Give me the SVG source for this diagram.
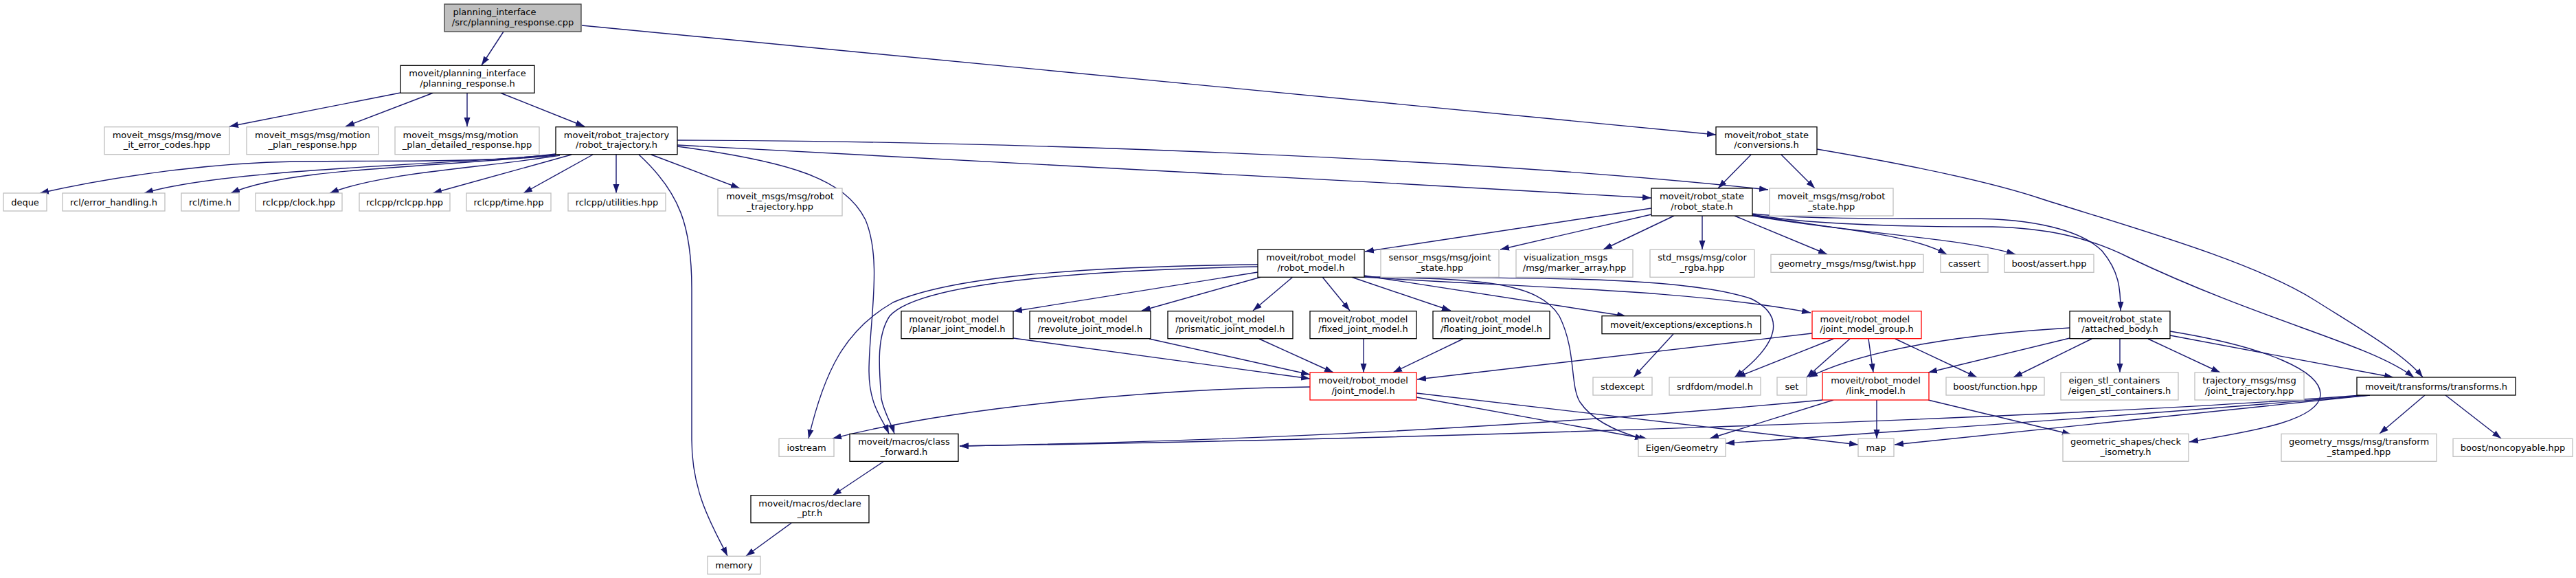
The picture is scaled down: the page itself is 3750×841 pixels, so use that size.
<svg xmlns="http://www.w3.org/2000/svg" width="3750" height="841" viewBox="0 0 3750 841">
<style>
.n rect{fill:#fff;stroke:#000;stroke-width:1.3}
.g rect{stroke:#bfbfbf}
.r rect{stroke:#ff0000}
.root rect{fill:#bfbfbf;stroke:#404040}
text{font-family:"DejaVu Sans",sans-serif;font-size:13px;fill:#000;text-anchor:middle}
text.l{text-anchor:start}
#edges path{fill:none;stroke:#191970;stroke-width:1.4;marker-end:url(#a)}
</style>
<defs>
<marker id="a" markerUnits="userSpaceOnUse" markerWidth="14" markerHeight="10" refX="13" refY="5" orient="auto">
<path d="M0,0.5 L13,5 L0,9.5 z" fill="#191970"/>
</marker>
</defs>
<rect width="3750" height="841" fill="#fff"/>
<g id="edges">
<path d="M733,46 L701,95"/>
<path d="M847,37 L2498,196"/>
<path d="M583,135 L334,184"/>
<path d="M631,135 L503,184"/>
<path d="M680,135 L680,184"/>
<path d="M728,135 L851,184"/>
<path d="M809,224 C700,238 560,233 430,235 C300,237 160,258 58,281"/>
<path d="M809,225 C650,240 330,245 210,281"/>
<path d="M809,226 C600,245 420,245 336,281"/>
<path d="M815,226 C700,245 560,250 480,281"/>
<path d="M832,225 L630,281"/>
<path d="M863,225 L762,281"/>
<path d="M897,225 L897,281"/>
<path d="M948,225 L1077,274"/>
<path d="M930,225 C990,280 1007,330 1007,420 L1007,640 C1007,720 1040,770 1059,809"/>
<path d="M986,213 C1150,235 1230,260 1260,320 C1285,380 1265,470 1265,540 C1265,590 1285,610 1294,631"/>
<path d="M986,211 C1300,230 1900,258 2404,288"/>
<path d="M986,204 C1400,205 2100,225 2574,276"/>
<path d="M2549,225 L2501,274"/>
<path d="M2593,225 L2642,274"/>
<path d="M2645,217 C2780,240 2900,265 2974,290 C3100,330 3280,380 3370,437 C3430,475 3500,515 3527,549"/>
<path d="M2404,303 L1987,366"/>
<path d="M2404,312 L2184,363"/>
<path d="M2437,314 L2334,363"/>
<path d="M2478,314 L2478,363"/>
<path d="M2525,314 L2660,370"/>
<path d="M2551,313 C2680,335 2780,340 2834,370"/>
<path d="M2551,314 C2700,340 2850,345 2934,370"/>
<path d="M2551,311 C2620,318 2700,318 2867,318 C2960,318 3030,335 3060,365 C3085,395 3087,420 3087,452"/>
<path d="M2551,312 C2620,325 2750,330 2901,330 C2980,332 3040,345 3100,375 C3300,470 3450,500 3514,549"/>
<path d="M1831,396 L1475,453"/>
<path d="M1836,403 L1662,452"/>
<path d="M1882,403 L1824,452"/>
<path d="M1925,403 L1965,452"/>
<path d="M1967,403 L2112,452"/>
<path d="M1986,401 L2367,460"/>
<path d="M1986,403 C2200,418 2450,420 2636,455"/>
<path d="M1986,403 C2200,405 2450,400 2550,435 C2600,460 2590,500 2525,549"/>
<path d="M1986,403 C2150,405 2240,410 2270,460 C2295,510 2285,560 2300,585 C2320,615 2360,630 2393,639"/>
<path d="M1831,385 C1550,388 1380,405 1300,440 C1230,480 1200,540 1177,638"/>
<path d="M1831,388 C1500,395 1330,420 1295,460 C1275,490 1280,540 1283,580 C1287,600 1297,615 1302,631"/>
<path d="M1475,492 L1907,551"/>
<path d="M1673,493 L1907,545"/>
<path d="M1833,493 L1941,542"/>
<path d="M1985,493 L1985,542"/>
<path d="M2130,493 L2028,542"/>
<path d="M2638,485 L2063,552"/>
<path d="M2436,486 L2378,549"/>
<path d="M2669,493 L2528,549"/>
<path d="M2693,493 L2630,549"/>
<path d="M2720,493 L2727,542"/>
<path d="M2759,493 L2878,549"/>
<path d="M3013,477 C2880,485 2720,505 2633,549"/>
<path d="M3013,492 L2807,542"/>
<path d="M3045,493 L2931,549"/>
<path d="M3086,493 L3086,542"/>
<path d="M3127,493 L3232,542"/>
<path d="M3159,488 L3484,549"/>
<path d="M3159,482 C3300,505 3380,540 3378,575 C3375,615 3260,630 3187,643"/>
<path d="M1907,563 C1700,565 1400,590 1212,638"/>
<path d="M2062,578 L2399,639"/>
<path d="M2062,572 L2705,647"/>
<path d="M2669,582 L2489,638"/>
<path d="M2732,582 L2732,638"/>
<path d="M2807,582 L3015,632"/>
<path d="M2653,582 C2300,615 1900,640 1397,649"/>
<path d="M3450,574 C3000,610 2000,640 1397,649"/>
<path d="M3450,575 C3100,605 2800,625 2512,645"/>
<path d="M3450,575 C3200,600 2950,625 2758,647"/>
<path d="M3530,575 L3464,631"/>
<path d="M3560,575 L3641,638"/>
<path d="M1287,671 L1212,721"/>
<path d="M1152,761 L1086,809"/>
</g>
<g id="n0" class="n root"><rect x="647" y="6" width="199" height="40"/><text class="l" x="659.5" y="22">planning_interface</text><text x="746.5" y="36.5">/src/planning_response.cpp</text></g>
<g id="n1" class="n"><rect x="583" y="95.3" width="195" height="40"/><text x="680.5" y="111.3">moveit/planning_interface</text><text x="680.5" y="125.8">/planning_response.h</text></g>
<g id="n2" class="n g"><rect x="152" y="184.7" width="182" height="40"/><text x="243" y="200.7">moveit_msgs/msg/move</text><text x="243" y="215.2">_it_error_codes.hpp</text></g>
<g id="n3" class="n g"><rect x="359" y="184.7" width="192" height="40"/><text x="455" y="200.7">moveit_msgs/msg/motion</text><text x="455" y="215.2">_plan_response.hpp</text></g>
<g id="n4" class="n g"><rect x="575" y="184.7" width="210" height="40"/><text class="l" x="586.5" y="200.7">moveit_msgs/msg/motion</text><text x="680" y="215.2">_plan_detailed_response.hpp</text></g>
<g id="n5" class="n"><rect x="809" y="184.7" width="177" height="40"/><text x="897.5" y="200.7">moveit/robot_trajectory</text><text x="897.5" y="215.2">/robot_trajectory.h</text></g>
<g id="n6" class="n"><rect x="2498" y="184.7" width="147" height="40"/><text x="2571.5" y="200.7">moveit/robot_state</text><text x="2571.5" y="215.2">/conversions.h</text></g>
<g id="n7" class="n g"><rect x="5" y="281" width="63" height="26"/><text x="36.5" y="298.5">deque</text></g>
<g id="n8" class="n g"><rect x="91" y="281" width="149" height="26"/><text x="165.5" y="298.5">rcl/error_handling.h</text></g>
<g id="n9" class="n g"><rect x="264" y="281" width="84" height="26"/><text x="306" y="298.5">rcl/time.h</text></g>
<g id="n10" class="n g"><rect x="372" y="281" width="126" height="26"/><text x="435" y="298.5">rclcpp/clock.hpp</text></g>
<g id="n11" class="n g"><rect x="523" y="281" width="132" height="26"/><text x="589" y="298.5">rclcpp/rclcpp.hpp</text></g>
<g id="n12" class="n g"><rect x="679" y="281" width="123" height="26"/><text x="740.5" y="298.5">rclcpp/time.hpp</text></g>
<g id="n13" class="n g"><rect x="827" y="281" width="142" height="26"/><text x="898" y="298.5">rclcpp/utilities.hpp</text></g>
<g id="n14" class="n g"><rect x="1045" y="274" width="181" height="40"/><text x="1135.5" y="290">moveit_msgs/msg/robot</text><text x="1135.5" y="304.5">_trajectory.hpp</text></g>
<g id="n15" class="n"><rect x="2404" y="274" width="147" height="40"/><text x="2477.5" y="290">moveit/robot_state</text><text x="2477.5" y="304.5">/robot_state.h</text></g>
<g id="n16" class="n g"><rect x="2576" y="274" width="180" height="40"/><text x="2666" y="290">moveit_msgs/msg/robot</text><text x="2666" y="304.5">_state.hpp</text></g>
<g id="n17" class="n"><rect x="1831" y="363.3" width="155" height="40"/><text x="1908.5" y="379.3">moveit/robot_model</text><text x="1908.5" y="393.8">/robot_model.h</text></g>
<g id="n18" class="n g"><rect x="2010" y="363.3" width="172" height="40"/><text x="2096" y="379.3">sensor_msgs/msg/joint</text><text x="2096" y="393.8">_state.hpp</text></g>
<g id="n19" class="n g"><rect x="2207" y="363.3" width="170" height="40"/><text class="l" x="2218" y="379.3">visualization_msgs</text><text x="2292" y="393.8">/msg/marker_array.hpp</text></g>
<g id="n20" class="n g"><rect x="2402" y="363.3" width="152" height="40"/><text x="2478" y="379.3">std_msgs/msg/color</text><text x="2478" y="393.8">_rgba.hpp</text></g>
<g id="n21" class="n g"><rect x="2578" y="370.3" width="222" height="26"/><text x="2689" y="387.8">geometry_msgs/msg/twist.hpp</text></g>
<g id="n22" class="n g"><rect x="2825" y="370.3" width="69" height="26"/><text x="2859.5" y="387.8">cassert</text></g>
<g id="n23" class="n g"><rect x="2918" y="370.3" width="130" height="26"/><text x="2983" y="387.8">boost/assert.hpp</text></g>
<g id="n24" class="n"><rect x="1312" y="452.7" width="163" height="40"/><text class="l" x="1323.3" y="468.7">moveit/robot_model</text><text x="1393.5" y="483.2">/planar_joint_model.h</text></g>
<g id="n25" class="n"><rect x="1499" y="452.7" width="176" height="40"/><text class="l" x="1510.3" y="468.7">moveit/robot_model</text><text x="1587" y="483.2">/revolute_joint_model.h</text></g>
<g id="n26" class="n"><rect x="1700" y="452.7" width="182" height="40"/><text class="l" x="1710.6" y="468.7">moveit/robot_model</text><text x="1791" y="483.2">/prismatic_joint_model.h</text></g>
<g id="n27" class="n"><rect x="1907" y="452.7" width="155" height="40"/><text class="l" x="1918.7" y="468.7">moveit/robot_model</text><text x="1984.5" y="483.2">/fixed_joint_model.h</text></g>
<g id="n28" class="n"><rect x="2086" y="452.7" width="170" height="40"/><text class="l" x="2097.4" y="468.7">moveit/robot_model</text><text x="2171" y="483.2">/floating_joint_model.h</text></g>
<g id="n29" class="n"><rect x="2332" y="459.7" width="231" height="26"/><text x="2447.5" y="477.2">moveit/exceptions/exceptions.h</text></g>
<g id="n30" class="n r"><rect x="2638" y="452.7" width="159" height="40"/><text class="l" x="2649.5" y="468.7">moveit/robot_model</text><text x="2717.5" y="483.2">/joint_model_group.h</text></g>
<g id="n31" class="n"><rect x="3013" y="452.7" width="146" height="40"/><text x="3086" y="468.7">moveit/robot_state</text><text x="3086" y="483.2">/attached_body.h</text></g>
<g id="n32" class="n r"><rect x="1907" y="542" width="155" height="40"/><text x="1984.5" y="558">moveit/robot_model</text><text x="1984.5" y="572.5">/joint_model.h</text></g>
<g id="n33" class="n g"><rect x="2319" y="549" width="86" height="26"/><text x="2362" y="566.5">stdexcept</text></g>
<g id="n34" class="n g"><rect x="2430" y="549" width="133" height="26"/><text x="2496.5" y="566.5">srdfdom/model.h</text></g>
<g id="n35" class="n g"><rect x="2587" y="549" width="43" height="26"/><text x="2608.5" y="566.5">set</text></g>
<g id="n36" class="n r"><rect x="2653" y="542" width="155" height="40"/><text x="2730.5" y="558">moveit/robot_model</text><text x="2730.5" y="572.5">/link_model.h</text></g>
<g id="n37" class="n g"><rect x="2833" y="549" width="143" height="26"/><text x="2904.5" y="566.5">boost/function.hpp</text></g>
<g id="n38" class="n g"><rect x="3000" y="542" width="171" height="40"/><text class="l" x="3011.4" y="558">eigen_stl_containers</text><text x="3085.5" y="572.5">/eigen_stl_containers.h</text></g>
<g id="n39" class="n g"><rect x="3195" y="542" width="159" height="40"/><text x="3274.5" y="558">trajectory_msgs/msg</text><text x="3274.5" y="572.5">/joint_trajectory.hpp</text></g>
<g id="n40" class="n"><rect x="3431" y="549" width="231" height="26"/><text x="3546.5" y="566.5">moveit/transforms/transforms.h</text></g>
<g id="n41" class="n g"><rect x="1134" y="638.3" width="80" height="26"/><text x="1174" y="655.8">iostream</text></g>
<g id="n42" class="n"><rect x="1237" y="631.3" width="158" height="40"/><text x="1316" y="647.3">moveit/macros/class</text><text x="1316" y="661.8">_forward.h</text></g>
<g id="n43" class="n g"><rect x="2385" y="638.3" width="127" height="26"/><text x="2448.5" y="655.8">Eigen/Geometry</text></g>
<g id="n44" class="n g"><rect x="2705" y="638.3" width="52" height="26"/><text x="2731" y="655.8">map</text></g>
<g id="n45" class="n g"><rect x="3003" y="631.3" width="183" height="40"/><text x="3094.5" y="647.3">geometric_shapes/check</text><text x="3094.5" y="661.8">_isometry.h</text></g>
<g id="n46" class="n g"><rect x="3321" y="631.3" width="226" height="40"/><text x="3434" y="647.3">geometry_msgs/msg/transform</text><text x="3434" y="661.8">_stamped.hpp</text></g>
<g id="n47" class="n g"><rect x="3571" y="638.3" width="174" height="26"/><text x="3658" y="655.8">boost/noncopyable.hpp</text></g>
<g id="n48" class="n"><rect x="1093" y="720.7" width="172" height="40"/><text x="1179" y="736.7">moveit/macros/declare</text><text x="1179" y="751.2">_ptr.h</text></g>
<g id="n49" class="n g"><rect x="1030" y="809.3" width="77" height="26"/><text x="1068.5" y="826.8">memory</text></g>
</svg>
